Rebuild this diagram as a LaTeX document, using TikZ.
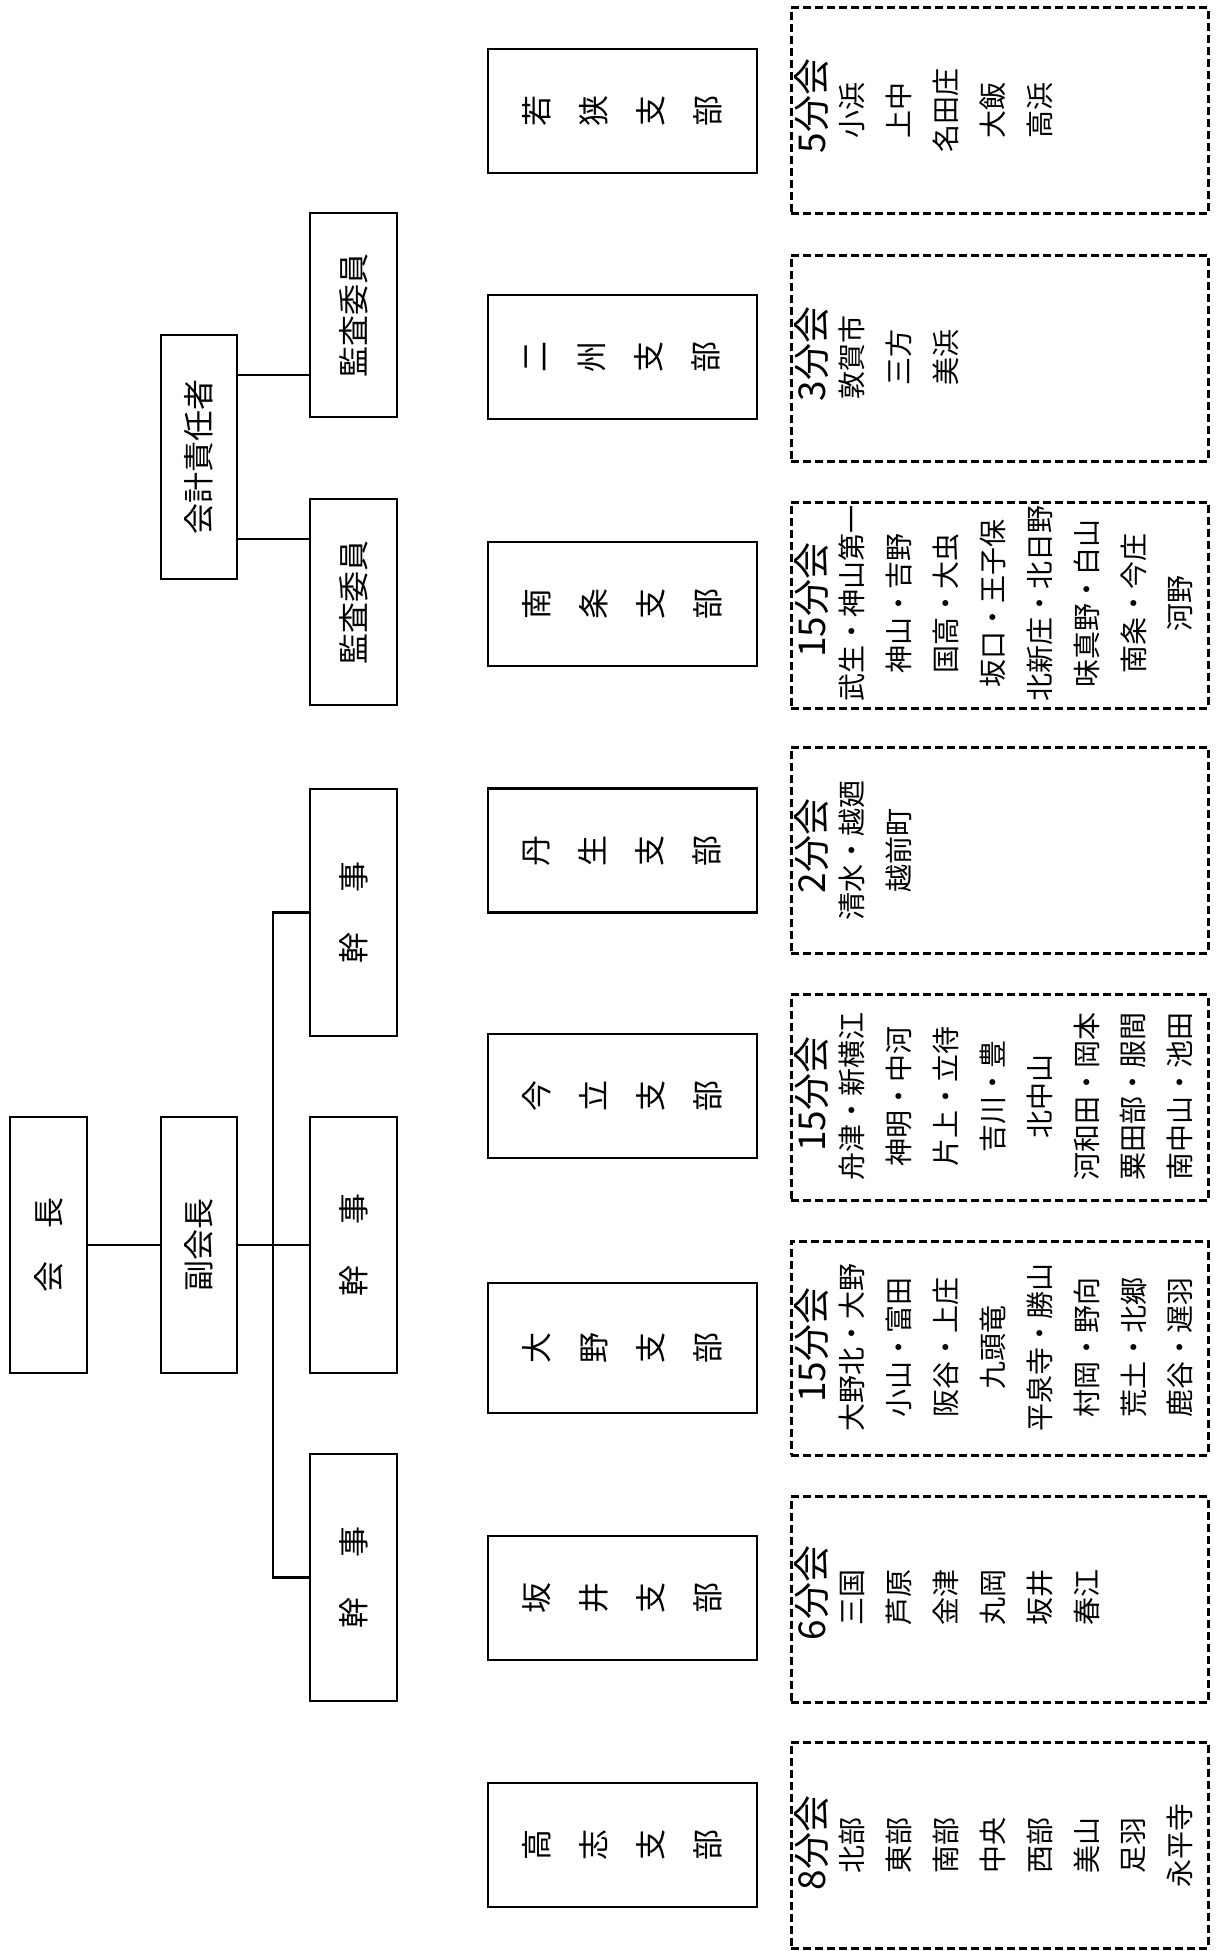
\documentclass[tikz,border=0pt]{standalone}
\usepackage{fontspec}
\setmainfont{Noto Sans CJK JP}
\usepackage{tikz}
\usetikzlibrary{positioning}

\begin{document}
\begin{tikzpicture}[x=0.5pt, y=-0.5pt,
  post/.style={draw, line width=1.4pt, rotate=90, inner sep=0pt, align=center,
               font=\fontsize{15.5}{18}\selectfont},
  shibu/.style={post, minimum width=62pt, minimum height=134.5pt,
               font=\fontsize{15.5}{28.5}\selectfont},
  link/.style={line width=1.3pt},
  area/.style={draw, line width=1.5pt, dash pattern=on 4pt off 2pt,
               minimum width=208.5pt, minimum height=103pt, inner sep=0pt},
  head/.style={rotate=90, inner sep=0pt, font=\fontsize{18.5}{20}\selectfont},
  item/.style={rotate=90, inner sep=0pt, font=\fontsize{14}{16}\selectfont}]

\useasboundingbox (0,0) rectangle (1216,1951);

% Officers
\node[post, minimum width=128pt, minimum height=38.5pt] (kaicho) at (48.5,1245) {会\hspace{1.05em}長};
\node[post, minimum width=128pt, minimum height=38pt]   (fuku)   at (199,1245)  {副会長};
\node[post, minimum width=123.5pt, minimum height=43.5pt] (kanji1) at (353.5,912.5)  {幹\hspace{1.3em}事};
\node[post, minimum width=128pt,   minimum height=43.5pt] (kanji2) at (353.5,1245)   {幹\hspace{1.3em}事};
\node[post, minimum width=123.5pt, minimum height=43.5pt] (kanji3) at (353.5,1577.5) {幹\hspace{1.3em}事};

% Accounting
\node[post, minimum width=122pt, minimum height=38pt]   (kaikei) at (199,457)    {会計責任者};
\node[post, minimum width=102pt, minimum height=43.5pt] (kansa1) at (353.5,315)  {監査委員};
\node[post, minimum width=103pt, minimum height=43.5pt] (kansa2) at (353.5,602)  {監査委員};

% Connectors
\draw[link] (kaicho) -- (fuku);
\draw[link] (fuku) -- (kanji2);
\coordinate (bus-t) at (273,912.5);
\coordinate (bus-b) at (273,1577.5);
\draw[link] (kanji1.north) -- (bus-t) -- (bus-b) -- (kanji3.north);
\path ([yshift=41pt]kaikei.south) coordinate (kk1);
\path ([yshift=-41pt]kaikei.south) coordinate (kk2);
\draw[link] (kk1) -- (kk1 -| kansa1.north);
\draw[link] (kk2) -- (kk2 -| kansa2.north);

% Branches
\node[shibu] (wakasa) at (622.5,111)  {若\\狭\\支\\部};
\node[shibu] (nishu)  at (622.5,357)  {二\\州\\支\\部};
\node[shibu] (nanjo)  at (622.5,604)  {南\\条\\支\\部};
\node[shibu] (nyu)    at (622.5,850.5){丹\\生\\支\\部};
\node[shibu] (imadate) at (622.5,1096){今\\立\\支\\部};
\node[shibu, minimum width=65pt] (ono) at (622.5,1348) {大\\野\\支\\部};
\node[shibu] (sakai)  at (622.5,1598) {坂\\井\\支\\部};
\node[shibu] (koshi)  at (622.5,1845) {高\\志\\支\\部};

% Sub-branch areas
\node[area] (wakasa-a)  at (999.5,110.5)  {};
\node[area] (nishu-a)   at (999.5,358)    {};
\node[area] (nanjo-a)   at (999.5,605)    {};
\node[area] (nyu-a)     at (999.5,850)    {};
\node[area] (imadate-a) at (999.5,1097.5) {};
\node[area, minimum height=107pt] (ono-a) at (999.5,1348) {};
\node[area] (sakai-a)   at (999.5,1599.5) {};
\node[area] (koshi-a)   at (999.5,1845)   {};

% Headers
\node[head] (wakasa-h)  at (812,106)  {5分会};
\node[head] (nishu-h)   at (812,354)  {3分会};
\node[head] (nanjo-h)   at (812,600)  {15分会};
\node[head] (nyu-h)     at (812,846)  {2分会};
\node[head] (imadate-h) at (812,1094) {15分会};
\node[head] (ono-h)     at (812,1345) {15分会};
\node[head] (sakai-h)   at (812,1593) {6分会};
\node[head] (koshi-h)   at (812,1843) {8分会};

% Member lists
\foreach \t [count=\i] in {小浜,上中,名田庄,大飯,高浜}
  \node[item] (wakasa-\i) at ({852+46.9*(\i-1)},110.5) {\t};
\foreach \t [count=\i] in {敦賀市,三方,美浜}
  \node[item] (nishu-\i) at ({852+46.9*(\i-1)},357) {\t};
\foreach \t [count=\i] in {武生・神山第一,神山・吉野,国高・大虫,坂口・王子保,北新庄・北日野,味真野・白山,南条・今庄,河野}
  \node[item] (nanjo-\i) at ({852+46.9*(\i-1)},603) {\t};
\foreach \t [count=\i] in {清水・越廼,越前町}
  \node[item] (nyu-\i) at ({852+46.9*(\i-1)},850) {\t};
\foreach \t [count=\i] in {舟津・新横江,神明・中河,片上・立待,吉川・豊,北中山,河和田・岡本,粟田部・服間,南中山・池田}
  \node[item] (imadate-\i) at ({852+46.9*(\i-1)},1096) {\t};
\foreach \t [count=\i] in {大野北・大野,小山・富田,阪谷・上庄,九頭竜,平泉寺・勝山,村岡・野向,荒土・北郷,鹿谷・遅羽}
  \node[item] (ono-\i) at ({852+46.9*(\i-1)},1347) {\t};
\foreach \t [count=\i] in {三国,芦原,金津,丸岡,坂井,春江}
  \node[item] (sakai-\i) at ({852+46.9*(\i-1)},1597) {\t};
\foreach \t [count=\i] in {北部,東部,南部,中央,西部,美山,足羽,永平寺}
  \node[item] (koshi-\i) at ({852+46.9*(\i-1)},1845) {\t};

\end{tikzpicture}
\end{document}
